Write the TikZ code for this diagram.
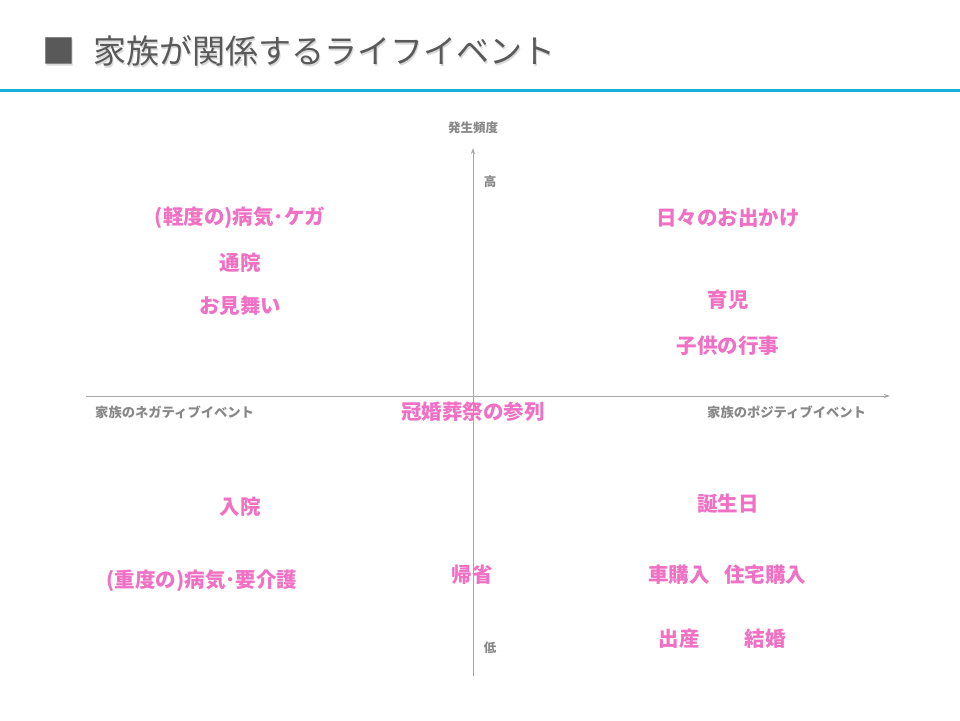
\documentclass[tikz,border=0pt]{standalone}
\usepackage{fontspec}
\setmainfont{Noto Sans CJK JP}
\usetikzlibrary{arrows.meta}
\definecolor{titlegray}{RGB}{89,89,89}
\definecolor{rulecyan}{RGB}{26,175,216}
\definecolor{axisgray}{RGB}{166,166,166}
\definecolor{labelgray}{RGB}{136,136,136}
\definecolor{eventpink}{RGB}{240,112,196}

\begin{document}
\begin{tikzpicture}[
    x=1pt, y=-1pt,
    title/.style={anchor=west, inner sep=0pt, font=\fontsize{33}{36}\selectfont, text=titlegray},
    axis/.style={draw=axisgray, line width=1pt, -{Stealth[length=6pt,width=4pt]}},
    axislabel/.style={inner sep=0pt, font=\fontsize{12.5}{14}\selectfont\bfseries, text=labelgray},
    event/.style={inner sep=0pt, font=\fontsize{20.5}{22}\selectfont\bfseries, text=eventpink}
]
\useasboundingbox (0,0) rectangle (960,720);

% title with soft shadow
\node[title, text=black!15] at (43.5,52.5) {■\hspace{0.55em}家族が関係するライフイベント};
\node[title] (ttl) at (42,51) {■\hspace{0.55em}家族が関係するライフイベント};
\draw[rulecyan, line width=3pt] (0,90) -- (960,90);

% axes
\coordinate (xl) at (86,396);
\coordinate (xr) at (890,396);
\coordinate (yb) at (473,676);
\coordinate (yt) at (473,148);
\draw[axis] (xl) -- (xr);
\draw[axis] (yb) -- (yt);

\node[axislabel] (freq) at (473,128) {発生頻度};
\node[axislabel] (hi) at (490,182) {高};
\node[axislabel] (lo) at (490,648) {低};
\node[axislabel, font=\fontsize{13.3}{15}\selectfont\bfseries, anchor=west] (neg) at (95,412) {家族のネガティブイベント};
\node[axislabel, font=\fontsize{13.3}{15}\selectfont\bfseries, anchor=west] (pos) at (707,412) {家族のポジティブイベント};

% events
\node[event] (light) at (240,218) {(軽度の)病気･ケガ};
\node[event] (visit) at (240,263) {通院};
\node[event] (mimai) at (240,306) {お見舞い};
\node[event] (outing) at (728,218) {日々のお出かけ};
\node[event] (child) at (728,300) {育児};
\node[event] (school) at (728,346) {子供の行事};
\node[event] (cere) at (473,412) {冠婚葬祭の参列};
\node[event] (hosp) at (240,507) {入院};
\node[event] (heavy) at (202,581) {(重度の)病気･要介護};
\node[event] (home) at (472,575) {帰省};
\node[event] (bday) at (728,504) {誕生日};
\node[event] (car) at (679,575) {車購入};
\node[event] (house) at (765,575) {住宅購入};
\node[event] (birth) at (679,639) {出産};
\node[event] (wed) at (765,639) {結婚};
\end{tikzpicture}
\end{document}
